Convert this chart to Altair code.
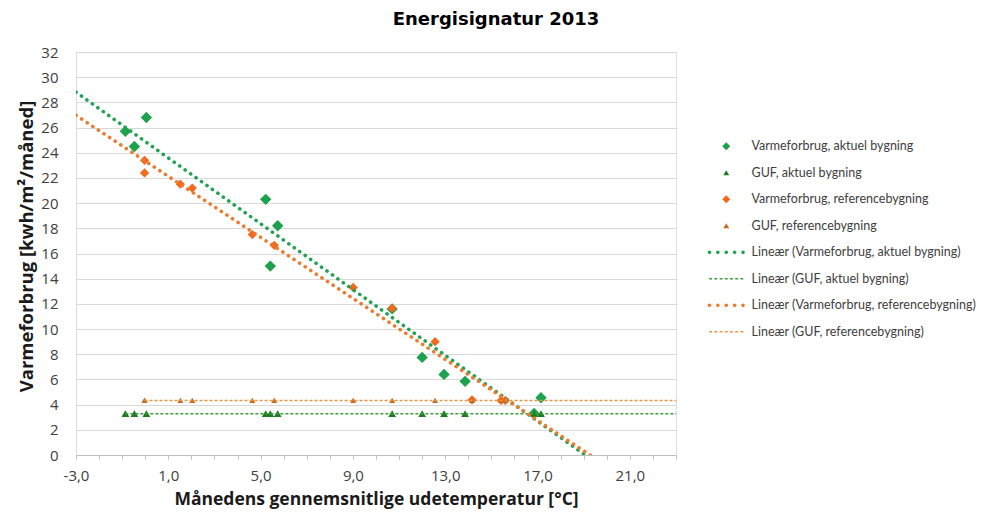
import altair as alt
import pandas as pd

# ---------------- data ----------------
title_text = "Energisignatur 2013"
x_title = "Månedens gennemsnitlige udetemperatur [°C]"
y_title = "Varmeforbrug [kwh/m²/måned]"

series_names = [
    "Varmeforbrug, aktuel bygning",
    "GUF, aktuel bygning",
    "Varmeforbrug, referencebygning",
    "GUF, referencebygning",
    "Lineær (Varmeforbrug, aktuel bygning)",
    "Lineær (GUF, aktuel bygning)",
    "Lineær (Varmeforbrug, referencebygning)",
    "Lineær (GUF, referencebygning)",
]

temp_aktuel = [-0.86, -0.47, 0.05, 5.22, 5.42, 5.74, 10.70, 12.00, 12.95, 13.86, 16.85, 17.15]
varme_aktuel = [25.7, 24.5, 26.8, 20.3, 15.0, 18.2, 11.6, 7.75, 6.4, 5.85, 3.3, 4.55]
guf_aktuel = [3.28, 3.28, 3.28, 3.28, 3.28, 3.28, 3.28, 3.28, 3.28, 3.28, 3.28, 3.28]

temp_ref = [-0.03, -0.03, 1.52, 2.04, 4.64, 5.59, 9.01, 10.70, 12.56, 14.16, 15.42, 15.60]
varme_ref = [23.4, 22.4, 21.5, 21.2, 17.5, 16.65, 13.3, 11.65, 9.0, 4.38, 4.33, 4.33]
guf_ref = [4.33, 4.33, 4.33, 4.33, 4.33, 4.33, 4.33, 4.33, 4.33, 4.33, 4.33, 4.33]

x_domain = [-3, 23]
y_domain = [0, 32]
x_ticks = list(range(-3, 24))
y_ticks = list(range(0, 33, 2))

# ---------------- styles ----------------
colors = ["#1CA24C", "#1F7A22", "#F26A1E", "#C96A20",
          "#1FA352", "#3A9E3A", "#F07A2A", "#E49548"]

def pad(p):
    # invisible degenerate sub-paths so all legend symbols share the same bounds
    return p + "M-4.6,0L-4.6,0M4.6,0L4.6,0"

def dots(n=5, span=4.2, r=0.45):
    out = ""
    for i in range(n):
        c = -span + 2 * span * i / (n - 1)
        out += f"M{c - r:.3f},0A{r},{r} 0 1,0 {c + r:.3f},0A{r},{r} 0 1,0 {c - r:.3f},0Z"
    return out

def dashes(n=7, span=3.9, hl=0.36, hh=0.17):
    out = ""
    for i in range(n):
        c = -span + 2 * span * i / (n - 1)
        out += f"M{c - hl:.3f},{-hh}L{c + hl:.3f},{-hh}L{c + hl:.3f},{hh}L{c - hl:.3f},{hh}Z"
    return out

diamond = "M-1,0L0,-1L1,0L0,1Z"
tri = "M0,-0.65L-0.75,0.65L0.75,0.65Z"
shapes = [pad(diamond), pad(tri), pad(diamond), pad(tri),
          pad(dots()), pad(dashes()), pad(dots()), pad(dashes())]

# ---------------- tables ----------------
rows = []
for xs, ys, name in [(temp_aktuel, varme_aktuel, series_names[0]),
                     (temp_aktuel, guf_aktuel, series_names[1]),
                     (temp_ref, varme_ref, series_names[2]),
                     (temp_ref, guf_ref, series_names[3])]:
    for xv, yv in zip(xs, ys):
        rows.append({"temp": xv, "value": yv, "series": name})
df = pd.DataFrame(rows)

FONT = "Open Sans"

x_enc = alt.X(
    "temp:Q",
    scale=alt.Scale(domain=x_domain, nice=False, zero=False),
    axis=alt.Axis(
        values=x_ticks,
        labelExpr="(datum.value + 3) % 4 == 0 ? replace(replace(format(datum.value, '.1f'), '.', ','), '\u2212', '-') : ''",
        grid=False, ticks=True, tickSize=4, tickColor="#BFBFBF", tickWidth=1,
        domainColor="#BFBFBF", domainWidth=1,
        labelFont=FONT, labelFontSize=15, labelColor="#404040",
        labelPadding=9, labelFlush=False, labelOverlap=False,
        title=x_title, titleFont=FONT, titleFontSize=17.5, titleFontWeight="bold",
        titleColor="#1A1A1A", titleX=300, titleY=49, titleAlign="center",
        titleBaseline="alphabetic", titleAnchor="middle",
    ),
)
y_enc = alt.Y(
    "value:Q",
    scale=alt.Scale(domain=y_domain, nice=False, zero=True),
    axis=alt.Axis(
        values=y_ticks, grid=True, gridColor="#D9D9D9", gridWidth=1.2,
        ticks=False, domainColor="#D9D9D9", domainWidth=1,
        labelFont=FONT, labelFontSize=15, labelColor="#404040",
        labelPadding=18, labelFlush=False, labelOverlap=False,
        title=y_title, titleFont=FONT, titleFontSize=18.5, titleFontWeight="bold",
        titleColor="#1A1A1A", titleX=-40, titleY=194, titleAlign="center",
        titleBaseline="bottom", titleAngle=270,
    ),
)

legend = alt.Legend(
    title=None, orient="none", legendX=644, legendY=88,
    symbolSize=64, symbolStrokeWidth=0, symbolOffset=0,
    labelFont="Lato", labelFontSize=12.5, labelColor="#404040",
    labelOffset=19, rowPadding=13.5, padding=0, labelLimit=400,
)

points = alt.Chart(df).mark_point(filled=True, opacity=1).encode(
    x=x_enc,
    y=y_enc,
    color=alt.Color("series:N", scale=alt.Scale(domain=series_names, range=colors), legend=legend),
    shape=alt.Shape("series:N", scale=alt.Scale(domain=series_names, range=shapes), legend=legend),
    size=alt.Size("series:N", scale=alt.Scale(domain=series_names[:4], range=[130, 64, 130, 64]), legend=None),
)

def trend(name, extent, color, dash, width, cap):
    return (
        alt.Chart(df)
        .transform_filter(alt.datum.series == name)
        .transform_regression("temp", "value", extent=extent)
        .mark_line(color=color, strokeDash=dash, strokeWidth=width, strokeCap=cap, clip=True)
        .encode(x=x_enc, y=y_enc)
    )

lines = [
    trend(series_names[1], [min(temp_aktuel), x_domain[1]], colors[5], [3, 2], 1.5, "butt"),
    trend(series_names[3], [min(temp_ref), x_domain[1]], colors[7], [3, 2], 1.5, "butt"),
    trend(series_names[0], [x_domain[0], x_domain[1]], colors[4], [0.1, 6.6], 3.6, "round"),
    trend(series_names[2], [x_domain[0], x_domain[1]], colors[6], [0.1, 6.6], 3.6, "round"),
]

chart = alt.layer(points, *lines).properties(
    width=600,
    height=403,
    padding={"left": 68, "top": 44, "right": 303, "bottom": 54},
    autosize=alt.AutoSizeParams(type="none"),
    title=alt.Title(title_text, font="DejaVu Sans", fontSize=18, fontWeight="bold",
                    color="#000000", anchor="middle", frame="group", dx=120, offset=16),
).configure_view(stroke=None).configure(background="white")

chart.save("out.html", embed_options={"renderer": "svg", "actions": False})
